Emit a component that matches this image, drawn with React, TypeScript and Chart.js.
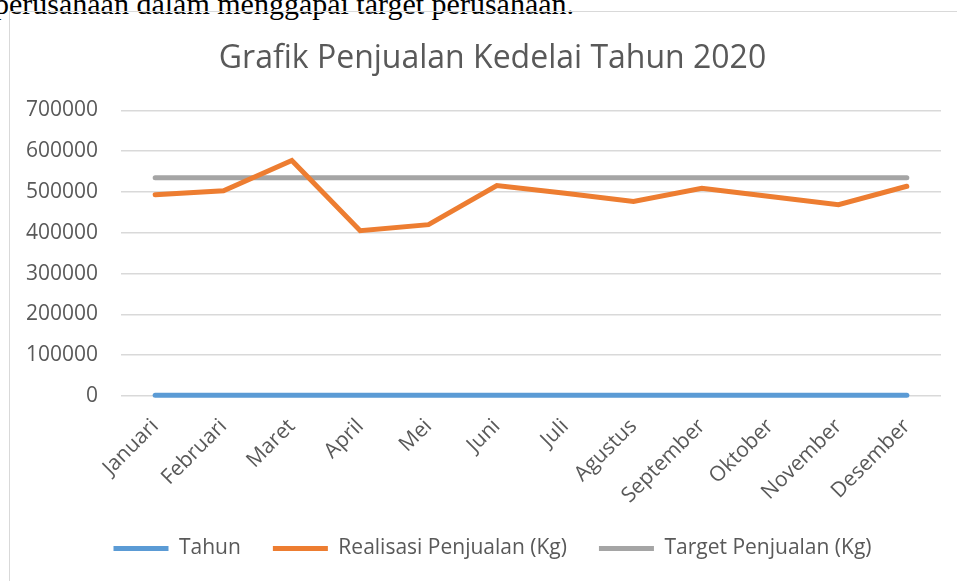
import React, { useEffect, useRef } from "react";
import { Chart, registerables } from "chart.js";

Chart.register(...registerables);

const categories = [
  "Januari", "Februari", "Maret", "April", "Mei", "Juni",
  "Juli", "Agustus", "September", "Oktober", "November", "Desember",
];
const tahun = [2020, 2020, 2020, 2020, 2020, 2020, 2020, 2020, 2020, 2020, 2020, 2020];
const realisasi = [493000, 503000, 577000, 405000, 420000, 516000, 497000, 477000, 509000, 489000, 469000, 514000];
const target = [535000, 535000, 535000, 535000, 535000, 535000, 535000, 535000, 535000, 535000, 535000, 535000];
const yTicks = [0, 100000, 200000, 300000, 400000, 500000, 600000, 700000];

const FONT = "'Open Sans', 'DejaVu Sans', sans-serif";
const TEXT = "#595959";

export default function App() {
  const ref = useRef<HTMLCanvasElement | null>(null);

  useEffect(() => {
    if (!ref.current) return;
    const mk = (label: string, data: number[], color: string) => ({
      label,
      data,
      borderColor: color,
      backgroundColor: color,
      borderWidth: 5,
      borderCapStyle: "round" as const,
      borderJoinStyle: "miter" as const,
      pointRadius: 0,
      pointHoverRadius: 0,
      tension: 0,
      fill: false,
      clip: false as const,
    });
    const chart = new Chart(ref.current, {
      type: "line",
      data: {
        labels: categories,
        datasets: [
          mk("Tahun", tahun, "#5b9bd5"),
          mk("Realisasi Penjualan (Kg)", realisasi, "#ed7d31"),
          mk("Target Penjualan (Kg)", target, "#a5a5a5"),
        ],
      },
      options: {
        animation: false,
        responsive: false,
        maintainAspectRatio: false,
        layout: { padding: { left: 0, right: 0, top: 0, bottom: 13 } },
        plugins: {
          tooltip: { enabled: false },
          title: {
            display: true,
            text: "Grafik Penjualan Kedelai Tahun 2020",
            color: TEXT,
            font: { family: FONT, size: 32, weight: "normal" },
            padding: { top: 28, bottom: 32 },
          },
          legend: {
            position: "bottom",
            labels: {
              usePointStyle: true,
              pointStyle: "line",
              pointStyleWidth: 55,
              color: TEXT,
              font: { family: FONT, size: 21 },
              padding: 32,
            },
          },
        },
        scales: {
          x: {
            offset: true,
            grid: { display: false, drawTicks: false },
            border: { display: false },
            ticks: {
              color: TEXT,
              font: { family: FONT, size: 21 },
              minRotation: 45,
              maxRotation: 45,
              padding: 18,
              autoSkip: false,
            },
            afterFit: (s: any) => {
              s.height = 110;
            },
          },
          y: {
            min: 0,
            max: 700000,
            afterBuildTicks: (s: any) => {
              s.ticks = yTicks.map((v) => ({ value: v }));
            },
            grid: { color: "#d9d9d9", lineWidth: 1.5, drawTicks: false },
            border: { display: false },
            ticks: {
              color: TEXT,
              font: { family: FONT, size: 21 },
              padding: 23,
              callback: (v: any) => String(v),
            },
            afterFit: (s: any) => {
              s.width = 111;
            },
          },
          y2: {
            position: "right",
            display: true,
            grid: { display: false, drawTicks: false },
            border: { display: false },
            ticks: { display: false },
            afterFit: (s: any) => {
              s.width = 34;
            },
          },
        },
      },
    });
    return () => chart.destroy();
  }, []);

  return (
    <div style={{ position: "fixed", left: 0, top: 0, width: 957, height: 581, overflow: "hidden", background: "#fff" }}>
      <div
        style={{
          position: "absolute",
          left: -6,
          top: -13,
          fontFamily: "'Liberation Serif', 'Times New Roman', serif",
          fontSize: 30,
          color: "#000",
          whiteSpace: "nowrap",
          lineHeight: "34px",
        }}
      >
        perusahaan dalam menggapai target perusahaan.
      </div>
      <div
        style={{
          position: "absolute",
          left: 9,
          top: 11,
          width: 980,
          height: 590,
          borderLeft: "1.5px solid #d9d9d9",
          borderTop: "1.5px solid #d9d9d9",
        }}
      >
        <canvas ref={ref} width={965} height={570} style={{ display: "block", width: 965, height: 570 }} />
      </div>
    </div>
  );
}
